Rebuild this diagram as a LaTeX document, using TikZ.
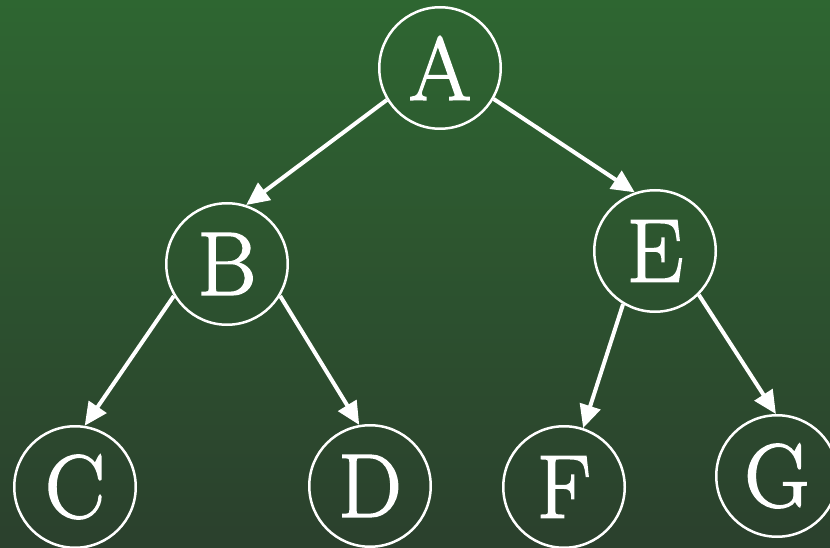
\documentclass[tikz,border=0pt]{standalone}
\usetikzlibrary{arrows.meta}
\definecolor{bgtop}{RGB}{46,102,49}
\definecolor{bgbottom}{RGB}{43,64,45}
% slightly heavier glyphs: fill and stroke the outlines
\newcommand{\heavy}[1]{\special{pdf:literal direct 2 Tr 1.6 w}#1\special{pdf:literal direct 0 Tr}}
\begin{document}
\begin{tikzpicture}[x=1pt,y=1pt,
  treenode/.style={circle, draw=white, line width=2.5pt, text=white,
    minimum size=121.5pt, inner sep=0pt, font=\fontsize{90}{90}\selectfont},
  edge/.style={draw=white, line width=4pt,
    -{Triangle[length=23pt,width=21pt]}}]
  % background with vertical gradient
  \shade[top color=bgtop, bottom color=bgbottom] (0,0) rectangle (830,547);
  \useasboundingbox (0,0) rectangle (830,547);
  \begin{scope}
    \clip (0,0) rectangle (830,547);
    % nodes
    \node[treenode] (A) at (440,479) {\heavy{A}};
    \node[treenode] (B) at (227,283) {\heavy{B}};
    \node[treenode] (E) at (655,296) {\heavy{E}};
    \node[treenode] (C) at (75,60) {\heavy{C}};
    \node[treenode] (D) at (370,61) {\heavy{D}};
    \node[treenode] (F) at (564,60) {\heavy{F}};
    \node[treenode] (G) at (777,71) {\heavy{G}};
    % edges
    \draw[edge] (A.211) -- (B.72);
    \draw[edge] (A.-30) -- (E.109);
    \draw[edge] (B.211) -- (C.81);
    \draw[edge] (B.-31) -- (D.100);
    \draw[edge] (E.239) -- (F.72);
    \draw[edge] (E.-45) -- (G.91);
  \end{scope}
\end{tikzpicture}
\end{document}
